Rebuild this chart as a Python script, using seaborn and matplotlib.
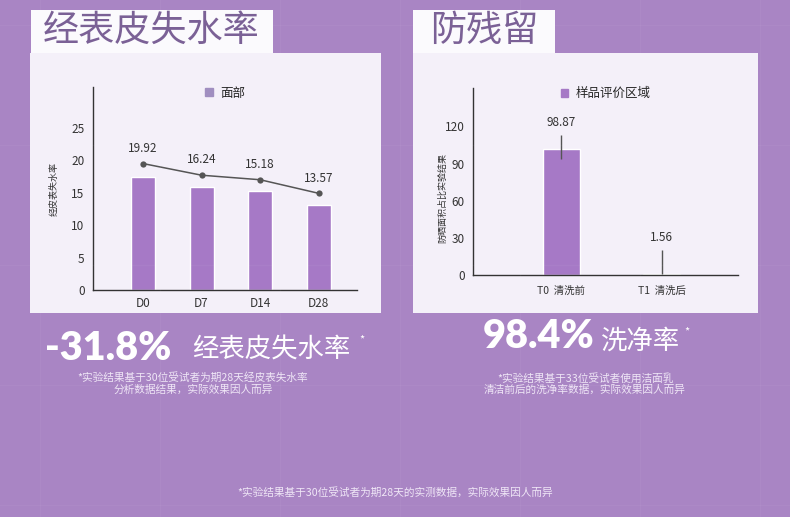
import matplotlib
matplotlib.use("Agg")
import matplotlib.pyplot as plt
from matplotlib.patches import Rectangle, Patch
import seaborn as sns
import pandas as pd

# left chart: 经表皮失水率
days = ["D0", "D7", "D14", "D28"]
tewl_bars = [17.4, 15.9, 15.2, 13.1]
tewl_line = [19.5, 17.7, 17.0, 14.9]
tewl_labels = ["19.92", "16.24", "15.18", "13.57"]

# right chart: 防残留
stages = ["T0  清洗前", "T1  清洗后"]
residue_bars = [102.0, 1.2]
residue_err_low = [94.0, 1.2]
residue_err_high = [113.0, 20.0]
residue_labels = ["98.87", "1.56"]

W, H = 790, 517
BG = "#a985c4"
PANEL = "#f4f0f9"
BAR = "#a679c6"
TITLE = "#7b6196"
INK = "#333333"
NOTE = "#efe6f6"

sns.set_theme(style="white")
plt.rcParams["font.family"] = ["Noto Sans CJK SC", "DejaVu Sans"]


def frac(x0, y0, x1, y1):
    # pixel box (top-left origin) -> figure fraction rect
    return [x0 / W, 1 - y1 / H, (x1 - x0) / W, (y1 - y0) / H]


def box(fig, x0, y0, x1, y1, color):
    r = frac(x0, y0, x1, y1)
    fig.add_artist(Rectangle((r[0], r[1]), r[2], r[3], transform=fig.transFigure,
                             facecolor=color, edgecolor="none", zorder=0))


def style_axes(ax):
    ax.set_facecolor(PANEL)
    sns.despine(ax=ax)
    for s in ["left", "bottom"]:
        ax.spines[s].set_color(INK)
        ax.spines[s].set_linewidth(1)
    ax.set_xlabel("")


fig = plt.figure(figsize=(W / 100, H / 100), dpi=100, facecolor=BG)

# faint background grid
for gx in range(40, W, 120):
    fig.add_artist(plt.Line2D([gx / W, gx / W], [0, 1], color="white", alpha=0.04, lw=1))
for gy in range(25, H, 120):
    fig.add_artist(plt.Line2D([0, 1], [1 - gy / H, 1 - gy / H], color="white", alpha=0.04, lw=1))

# panels and title boxes
box(fig, 30, 53, 381, 313, PANEL)
box(fig, 31, 10, 273, 53, "#fbfafd")
box(fig, 413, 53, 758, 313, PANEL)
box(fig, 413, 10, 555, 53, "#fbfafd")
fig.text(151 / W, 1 - 31 / H, "经表皮失水率", fontsize=26, color=TITLE,
         ha="center", va="center")
fig.text(484 / W, 1 - 31 / H, "防残留", fontsize=26, color=TITLE,
         ha="center", va="center")

# ---- left chart
ax1 = fig.add_axes(frac(93, 87, 357, 290))
df1 = pd.DataFrame({"day": days, "value": tewl_bars})
sns.barplot(data=df1, x="day", y="value", color=BAR, width=0.41, saturation=1, ax=ax1)
sns.lineplot(x=list(range(len(days))), y=tewl_line, color="#555555", lw=1.1,
             marker="o", markersize=4.5, markeredgewidth=0, ax=ax1)
for i, lab in enumerate(tewl_labels):
    ax1.annotate(lab, (i, tewl_line[i]), xytext=(0, 11), textcoords="offset points",
                 ha="center", va="center", fontsize=8.5, color=INK)
ax1.set_xlim(-0.85, 3.65)
ax1.set_ylim(0, 31.3)
ax1.set_yticks([0, 5, 10, 15, 20, 25])
style_axes(ax1)
ax1.tick_params(axis="both", length=0, labelsize=8.5, colors=INK)
ax1.tick_params(axis="x", pad=5)
ax1.tick_params(axis="y", pad=6)
ax1.set_ylabel("经皮表失水率", fontsize=6.5, color=INK, va="center")
ax1.yaxis.set_label_coords(-0.148, 0.5)
ax1.legend(handles=[Patch(color="#a08ec0", label="面部")], loc="center",
           bbox_to_anchor=(0.5, 0.97), frameon=False, fontsize=9,
           handlelength=0.6, handleheight=0.6, handletextpad=0.6)

# ---- right chart
ax2 = fig.add_axes(frac(473, 88, 738, 275))
df2 = pd.DataFrame({"stage": stages, "value": residue_bars})
sns.barplot(data=df2, x="stage", y="value", color=BAR, width=0.37, saturation=1, ax=ax2)
ax2.vlines(range(len(stages)), residue_err_low, residue_err_high, color="#555555", lw=1)
for i, lab in enumerate(residue_labels):
    ax2.annotate(lab, (i, residue_err_high[i]), xytext=(0, 9), textcoords="offset points",
                 ha="center", va="center", fontsize=8.5, color=INK)
ax2.set_xlim(-0.88, 1.76)
ax2.set_ylim(0, 151)
ax2.set_yticks([0, 30, 60, 90, 120])
style_axes(ax2)
ax2.tick_params(axis="both", length=0, colors=INK)
ax2.tick_params(axis="y", labelsize=8.5, pad=6)
ax2.tick_params(axis="x", labelsize=7.5, pad=8)
ax2.set_ylabel("防晒面积占比实验结果", fontsize=6.5, color=INK, va="center")
ax2.yaxis.set_label_coords(-0.113, 0.41)
ax2.legend(handles=[Patch(color=BAR, label="样品评价区域")], loc="center",
           bbox_to_anchor=(0.5, 0.97), frameon=False, fontsize=9,
           handlelength=0.6, handleheight=0.6, handletextpad=0.6)

# ---- headline numbers and footnotes
fig.text(45 / W, 1 - 348 / H, "-31.8%", fontsize=28.5, fontweight="heavy", color="white",
         family=["Lato", "DejaVu Sans"], ha="left", va="center")
fig.text(192 / W, 1 - 350 / H, "经表皮失水率", fontsize=19, color="white",
         ha="left", va="center")
fig.text(359 / W, 1 - 340 / H, "*", fontsize=8, color="white", ha="left", va="center")
fig.text(193 / W, 1 - 378 / H, "*实验结果基于30位受试者为期28天经皮表失水率",
         fontsize=7.7, color=NOTE, ha="center", va="center")
fig.text(193 / W, 1 - 390 / H, "分析数据结果，实际效果因人而异",
         fontsize=7.7, color=NOTE, ha="center", va="center")

fig.text(483 / W, 1 - 337 / H, "98.4%", fontsize=28.5, fontweight="heavy", color="white",
         family=["Lato", "DejaVu Sans"], ha="left", va="center")
fig.text(601 / W, 1 - 341 / H, "洗净率", fontsize=19, color="white",
         ha="left", va="center")
fig.text(684 / W, 1 - 332 / H, "*", fontsize=8, color="white", ha="left", va="center")
fig.text(585 / W, 1 - 378 / H, "*实验结果基于33位受试者使用洁面乳",
         fontsize=7.7, color=NOTE, ha="center", va="center")
fig.text(585 / W, 1 - 390 / H, "清洁前后的洗净率数据，实际效果因人而异",
         fontsize=7.7, color=NOTE, ha="center", va="center")

fig.text(395 / W, 1 - 492 / H, "*实验结果基于30位受试者为期28天的实测数据，实际效果因人而异",
         fontsize=7.7, color=NOTE, ha="center", va="center")

fig.savefig("out.png", dpi=100, facecolor=BG)
